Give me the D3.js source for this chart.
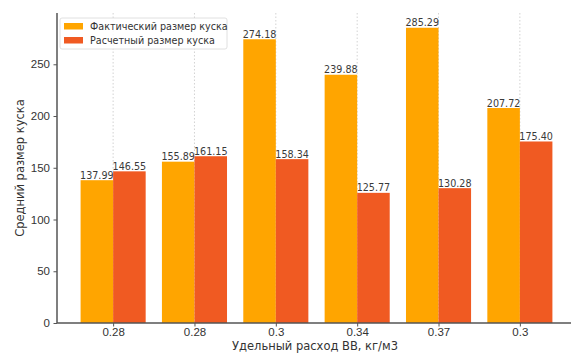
<!DOCTYPE html>
<html>
<head>
<meta charset="utf-8">
<script src="https://cdn.jsdelivr.net/npm/d3@7"></script>
<style>
  html, body { margin: 0; padding: 0; background: #fff; }
  svg { display: block; font-family: "DejaVu Sans", sans-serif; }
</style>
</head>
<body>
<svg id="chart" width="571" height="353"></svg>
<script>
// Удельный расход ВВ для каждого взрыва
const categories = ["0.28", "0.28", "0.3", "0.34", "0.37", "0.3"];
// Фактический и расчетный средний размер куска
const actualSize = [137.99, 155.89, 274.18, 239.88, 285.29, 207.72];
const calcSize = [146.55, 161.15, 158.34, 125.77, 130.28, 175.40];
const seriesNames = ["Фактический размер куска", "Расчетный размер куска"];
const yTicks = [0, 50, 100, 150, 200, 250];

const colors = ["#ffa500", "#f05a22"];
const W = 571, H = 353;
const margin = { left: 57, top: 13, bottom: 30 };
const plotBottom = H - margin.bottom;

const svg = d3.select("#chart");

// Позиции групп: индекс категории, ширина столбца 0.4, поля 5%
const n = categories.length;
const barW = 0.4;
const lo = -barW, hi = (n - 1) + barW;
const pad = (hi - lo) * 0.05;
const x = d3.scaleLinear()
  .domain([lo - pad, hi + pad])
  .range([margin.left, margin.left + 519]);

const yMax = d3.max(actualSize.concat(calcSize)) * 1.05;
const y = d3.scaleLinear().domain([0, yMax]).range([plotBottom, margin.top]);

// Вертикальная пунктирная сетка
svg.append("g")
  .selectAll("line")
  .data(d3.range(n))
  .join("line")
  .attr("x1", i => x(i)).attr("x2", i => x(i))
  .attr("y1", margin.top).attr("y2", plotBottom)
  .attr("stroke", "#c8c8c8")
  .attr("stroke-width", 0.8)
  .attr("stroke-dasharray", "1.5,2");

// Столбцы
const series = [actualSize, calcSize];
series.forEach((vals, s) => {
  const offset = s === 0 ? -barW : 0;
  const g = svg.append("g");
  g.selectAll("rect")
    .data(vals)
    .join("rect")
    .attr("x", (d, i) => x(i + offset))
    .attr("width", x(barW) - x(0))
    .attr("y", d => y(d))
    .attr("height", d => plotBottom - y(d))
    .attr("fill", colors[s]);
  g.selectAll("text")
    .data(vals)
    .join("text")
    .attr("x", (d, i) => x(i + offset + barW / 2))
    .attr("y", d => y(d) - 1.5)
    .attr("text-anchor", "middle")
    .attr("font-size", 9.6)
    .attr("fill", "#3a3a3a")
    .text(d => d.toFixed(2));
});

// Оси
const yAxis = d3.axisLeft(y).tickValues(yTicks).tickSize(3.5).tickPadding(3.5);
const gy = svg.append("g")
  .attr("transform", `translate(${margin.left},0)`)
  .call(yAxis);
gy.select(".domain").remove();
gy.selectAll(".tick line").attr("stroke", "#555");
gy.selectAll(".tick text").attr("font-size", 11.5).attr("fill", "#333");

const xAxis = d3.axisBottom(x).tickValues(d3.range(n)).tickFormat(i => categories[i])
  .tickSize(3.5).tickPadding(1);
const gx = svg.append("g")
  .attr("transform", `translate(0,${plotBottom})`)
  .call(xAxis);
gx.select(".domain").remove();
gx.selectAll(".tick line").attr("stroke", "#555");
gx.selectAll(".tick text").attr("font-size", 11.5).attr("fill", "#333");

// Линии осей
svg.append("line")
  .attr("x1", margin.left).attr("x2", margin.left)
  .attr("y1", margin.top).attr("y2", plotBottom)
  .attr("stroke", "#555").attr("stroke-width", 1.5);
svg.append("line")
  .attr("x1", margin.left).attr("x2", W)
  .attr("y1", plotBottom).attr("y2", plotBottom)
  .attr("stroke", "#555").attr("stroke-width", 1.5);

// Подписи осей
svg.append("text")
  .attr("x", 315).attr("y", 350)
  .attr("text-anchor", "middle")
  .attr("font-size", 11.5).attr("fill", "#333")
  .text("Удельный расход ВВ, кг/м3");
svg.append("text")
  .attr("transform", `translate(24,${(margin.top + plotBottom) / 2}) rotate(-90)`)
  .attr("text-anchor", "middle")
  .attr("font-size", 11.5).attr("fill", "#333")
  .text("Средний размер куска");

// Легенда
const lg = svg.append("g").attr("transform", "translate(60,18)");
lg.append("rect")
  .attr("width", 167).attr("height", 31).attr("rx", 2)
  .attr("fill", "#fff").attr("fill-opacity", 0.85)
  .attr("stroke", "#d8d8d8").attr("stroke-width", 0.8);
seriesNames.forEach((name, i) => {
  lg.append("rect")
    .attr("x", 4).attr("y", 5 + i * 14)
    .attr("width", 19).attr("height", 6.5)
    .attr("fill", colors[i]);
  lg.append("text")
    .attr("x", 30).attr("y", 12 + i * 14)
    .attr("font-size", 9.6).attr("fill", "#333")
    .text(name);
});
</script>
</body>
</html>
